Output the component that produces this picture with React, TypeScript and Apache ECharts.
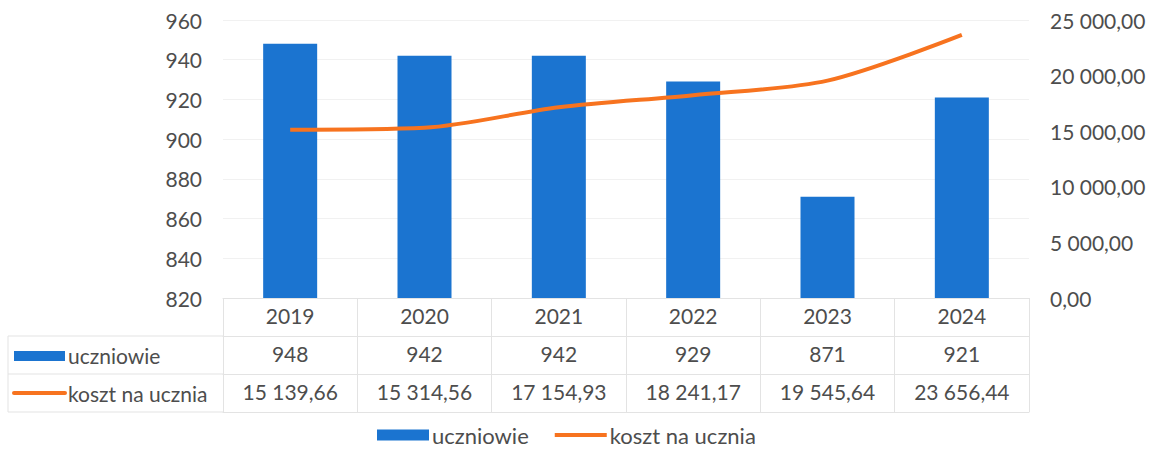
import React, { useEffect, useRef } from "react";
import * as echarts from "echarts";

const years = ["2019", "2020", "2021", "2022", "2023", "2024"];
const students = [948, 942, 942, 929, 871, 921];
const costPerStudent = [15139.66, 15314.56, 17154.93, 18241.17, 19545.64, 23656.44];

const leftTicks = { min: 820, max: 960, interval: 20 };
const rightTicks = { min: 0, max: 25000, interval: 5000 };

const BLUE = "#1b74d0";
const ORANGE = "#f7731f";
const TEXT = "#4d4d4d";
const LINE = "#e3e3e3";
const FONT = "Lato";
const FS = 21;

function fmt(n: number): string {
  const [i, d] = n.toFixed(2).split(".");
  return i.replace(/\B(?=(\d{3})+(?!\d))/g, " ") + "," + d;
}

export default function App() {
  const ref = useRef<HTMLDivElement>(null);
  useEffect(() => {
    if (!ref.current) return;
    const chart = echarts.init(ref.current, undefined, { renderer: "svg" });
    const gridLeft = 223;
    const gridRight = 124;
    const gridTop = 20;
    const gridBottom = 161;
    const axisY = 459 - gridBottom;
    const rowH = 38;

    const catAxis = (offset: number, labels: string[] | null, extra: any = {}) => ({
      type: "category",
      data: years,
      position: "bottom",
      offset,
      boundaryGap: true,
      axisLine: { show: true, lineStyle: { color: LINE, width: 1 } },
      axisTick: { show: false },
      axisLabel: {
        show: labels !== null,
        margin: 7,
        color: TEXT,
        fontFamily: FONT,
        fontSize: FS,
        formatter: (_v: string, idx: number) => (labels ? labels[idx] : ""),
      },
      ...extra,
    });

    const hLines: any[] = [1, 2, 3].map((k) => ({
      type: "line",
      shape: { x1: 8, y1: axisY + k * rowH, x2: gridLeft, y2: axisY + k * rowH },
      style: { stroke: LINE, lineWidth: 1 },
      silent: true,
    }));

    chart.setOption({
      animation: false,
      grid: { left: gridLeft, right: gridRight, top: gridTop, bottom: gridBottom, containLabel: false },
      legend: {
        bottom: 8,
        left: 372,
        itemWidth: 52,
        itemHeight: 11,
        itemGap: 24,
        textStyle: { color: TEXT, fontFamily: FONT, fontSize: 22, padding: [0, 0, 0, -2] },
        data: [
          { name: "uczniowie", icon: "rect" },
          { name: "koszt na ucznia", itemStyle: { opacity: 0 }, lineStyle: { width: 4, color: ORANGE } },
        ],
      },
      xAxis: [
        catAxis(0, years, {
          axisTick: {
            show: true,
            inside: false,
            length: rowH * 3,
            interval: 0,
            lineStyle: { color: LINE, width: 1 },
          },
        }),
        catAxis(rowH, students.map((v) => String(v))),
        catAxis(rowH * 2, costPerStudent.map(fmt)),
        catAxis(rowH * 3, null),
      ],
      yAxis: [
        {
          type: "value",
          ...leftTicks,
          axisLine: { show: false },
          axisTick: { show: false },
          splitLine: { show: true, lineStyle: { color: "#f1f1f1" } },
          axisLabel: { color: TEXT, fontFamily: FONT, fontSize: FS, margin: 21 },
        },
        {
          type: "value",
          ...rightTicks,
          position: "right",
          axisLine: { show: false },
          axisTick: { show: false },
          splitLine: { show: false },
          axisLabel: {
            color: TEXT,
            fontFamily: FONT,
            fontSize: FS,
            margin: 21,
            formatter: (v: number) => fmt(v),
          },
        },
      ],
      series: [
        {
          name: "uczniowie",
          type: "bar",
          data: students,
          xAxisIndex: 0,
          yAxisIndex: 0,
          barWidth: 54,
          itemStyle: { color: BLUE },
        },
        {
          name: "koszt na ucznia",
          type: "line",
          data: costPerStudent,
          xAxisIndex: 0,
          yAxisIndex: 1,
          smooth: 0.3,
          symbol: "none",
          lineStyle: { color: ORANGE, width: 4 },
          itemStyle: { color: ORANGE },
        },
      ],
      graphic: [
        ...hLines,
        {
          type: "line",
          shape: { x1: 8, y1: axisY + rowH, x2: 8, y2: axisY + rowH * 3 },
          style: { stroke: LINE, lineWidth: 1 },
          silent: true,
        },
        {
          type: "rect",
          shape: { x: 14, y: axisY + rowH + 15, width: 51, height: 10 },
          style: { fill: BLUE },
        },
        {
          type: "text",
          x: 68,
          y: axisY + rowH + 19,
          style: { text: "uczniowie", fill: TEXT, font: `${FS}px ${FONT}`, verticalAlign: "middle" },
        },
        {
          type: "line",
          shape: { x1: 14, y1: axisY + rowH * 2 + 19, x2: 65, y2: axisY + rowH * 2 + 19 },
          style: { stroke: ORANGE, lineWidth: 4, lineCap: "round" },
        },
        {
          type: "text",
          x: 68,
          y: axisY + rowH * 2 + 19,
          style: { text: "koszt na ucznia", fill: TEXT, font: `${FS}px ${FONT}`, verticalAlign: "middle" },
        },
      ],
    });
    return () => chart.dispose();
  }, []);
  return (
    <div
      ref={ref}
      style={{ position: "fixed", left: 0, top: 0, width: 1153, height: 459, background: "#fff" }}
    />
  );
}
